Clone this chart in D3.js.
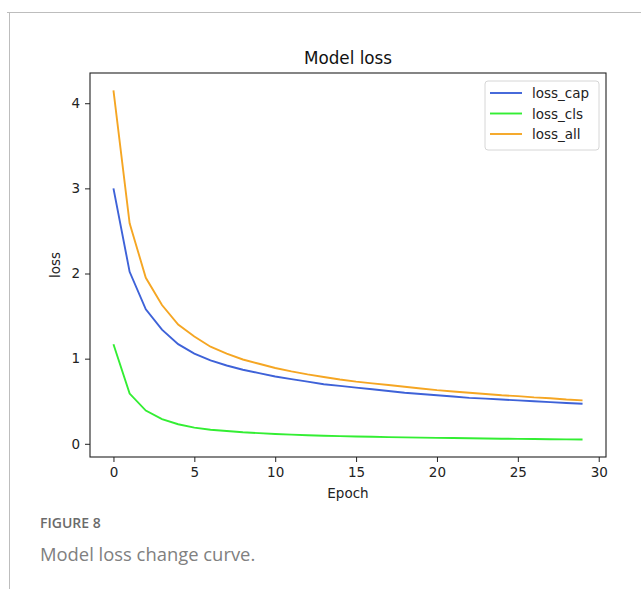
<!DOCTYPE html>
<html lang="en">
<head>
<meta charset="UTF-8">
<title>Model loss</title>
<style>
  html, body { margin: 0; padding: 0; background: #fff; }
  svg { display: block; }
</style>
</head>
<body>
<svg id="svg"></svg>
<script src="https://d3js.org/d3.v7.min.js"></script>
<script>
// values
const epochs = d3.range(0, 30);
const lossCap = [3.00, 2.02, 1.58, 1.34, 1.17, 1.06, 0.98, 0.92, 0.87, 0.83,
                 0.79, 0.76, 0.73, 0.70, 0.68, 0.66, 0.64, 0.62, 0.60, 0.585,
                 0.57, 0.555, 0.54, 0.53, 0.52, 0.51, 0.50, 0.49, 0.48, 0.47];
const lossCls = [1.17, 0.59, 0.39, 0.29, 0.23, 0.19, 0.165, 0.15, 0.135, 0.125,
                 0.115, 0.108, 0.10, 0.095, 0.09, 0.086, 0.082, 0.079, 0.076, 0.073,
                 0.07, 0.068, 0.065, 0.063, 0.06, 0.058, 0.056, 0.054, 0.052, 0.05];
const lossAll = [4.15, 2.59, 1.95, 1.63, 1.40, 1.26, 1.14, 1.06, 0.99, 0.94,
                 0.89, 0.85, 0.815, 0.785, 0.755, 0.73, 0.71, 0.69, 0.67, 0.65,
                 0.63, 0.615, 0.60, 0.585, 0.57, 0.56, 0.545, 0.535, 0.52, 0.51];
const seriesNames = ["loss_cap", "loss_cls", "loss_all"];
const xTicks = [0, 5, 10, 15, 20, 25, 30];
const yTicks = [0, 1, 2, 3, 4];

const series = [
  { name: seriesNames[0], values: lossCap, color: "#3e62d8" },
  { name: seriesNames[1], values: lossCls, color: "#33ee33" },
  { name: seriesNames[2], values: lossAll, color: "#f5a623" }
];

const width = 641, height = 589;
const plot = { left: 90, right: 606, top: 73, bottom: 457 };
const font = "'DejaVu Sans', sans-serif";
const capFont = "'Open Sans', Lato, sans-serif";

const svg = d3.select("#svg").attr("width", width).attr("height", height);

// page frame lines
svg.append("line").attr("x1", 7).attr("x2", width).attr("y1", 12.5).attr("y2", 12.5)
  .attr("stroke", "#bdbdbd").attr("stroke-width", 1);
svg.append("line").attr("x1", 9.5).attr("x2", 9.5).attr("y1", 12).attr("y2", height)
  .attr("stroke", "#bdbdbd").attr("stroke-width", 1);

// matplotlib style 5% margins
const allVals = lossCap.concat(lossCls, lossAll);
const yMin = d3.min(allVals), yMax = d3.max(allVals);
const yPad = (yMax - yMin) * 0.05;
const xPad = (epochs.length - 1) * 0.05;

const x = d3.scaleLinear()
  .domain([-xPad, epochs.length - 1 + xPad])
  .range([plot.left, plot.right]);
const y = d3.scaleLinear()
  .domain([yMin - yPad, yMax + yPad])
  .range([plot.bottom, plot.top]);

const g = svg.append("g");

// lines
const line = d3.line().x((d, i) => x(epochs[i])).y(d => y(d));
g.selectAll("path.series")
  .data(series)
  .enter()
  .append("path")
  .attr("class", "series")
  .attr("d", d => line(d.values))
  .attr("fill", "none")
  .attr("stroke", d => d.color)
  .attr("stroke-width", 1.9);

// axes
const xAxis = g.append("g")
  .attr("transform", `translate(0,${plot.bottom})`)
  .call(d3.axisBottom(x).tickValues(xTicks).tickSize(5).tickPadding(5).tickFormat(d3.format("d")));
const yAxis = g.append("g")
  .attr("transform", `translate(${plot.left},0)`)
  .call(d3.axisLeft(y).tickValues(yTicks).tickSize(5).tickPadding(5).tickFormat(d3.format("d")));

[xAxis, yAxis].forEach(a => {
  a.select(".domain").remove();
  a.selectAll("line").attr("stroke", "#222").attr("stroke-width", 1);
  a.selectAll("text").attr("fill", "#222").style("font-family", font).style("font-size", "13.5px");
});

// frame
g.append("rect")
  .attr("x", plot.left).attr("y", plot.top)
  .attr("width", plot.right - plot.left).attr("height", plot.bottom - plot.top)
  .attr("fill", "none").attr("stroke", "#222").attr("stroke-width", 1.1);

// title and axis labels
svg.append("text").attr("x", (plot.left + plot.right) / 2).attr("y", 64)
  .attr("text-anchor", "middle").style("font-family", font).style("font-size", "16.8px")
  .attr("fill", "#111").text("Model loss");
svg.append("text").attr("x", (plot.left + plot.right) / 2).attr("y", 498)
  .attr("text-anchor", "middle").style("font-family", font).style("font-size", "13.5px")
  .attr("fill", "#222").text("Epoch");
svg.append("text").attr("transform", `translate(60,${(plot.top + plot.bottom) / 2}) rotate(-90)`)
  .attr("text-anchor", "middle").style("font-family", font).style("font-size", "13.5px")
  .attr("fill", "#222").text("loss");

// legend
const legend = svg.append("g").attr("transform", "translate(485,81)");
legend.append("rect").attr("width", 114).attr("height", 69).attr("rx", 3)
  .attr("fill", "#fff").attr("stroke", "#d6d6d6").attr("stroke-width", 1);
const rows = legend.selectAll("g.row").data(series).enter().append("g")
  .attr("transform", (d, i) => `translate(0,${12 + i * 20.5})`);
rows.append("line").attr("x1", 5).attr("x2", 37).attr("y1", 0).attr("y2", 0)
  .attr("stroke", d => d.color).attr("stroke-width", 1.9);
rows.append("text").attr("x", 47).attr("y", 5)
  .style("font-family", font).style("font-size", "13.5px").attr("fill", "#222")
  .text(d => d.name);

// caption
svg.append("text").attr("x", 40).attr("y", 528)
  .style("font-family", capFont).style("font-size", "14px")
  .style("font-weight", "600").attr("fill", "#6b6b6b").text("FIGURE 8");
svg.append("text").attr("x", 40).attr("y", 561)
  .style("font-family", capFont).style("font-size", "18.4px")
  .style("font-weight", "400").attr("fill", "#808080").text("Model loss change curve.");
</script>
</body>
</html>
